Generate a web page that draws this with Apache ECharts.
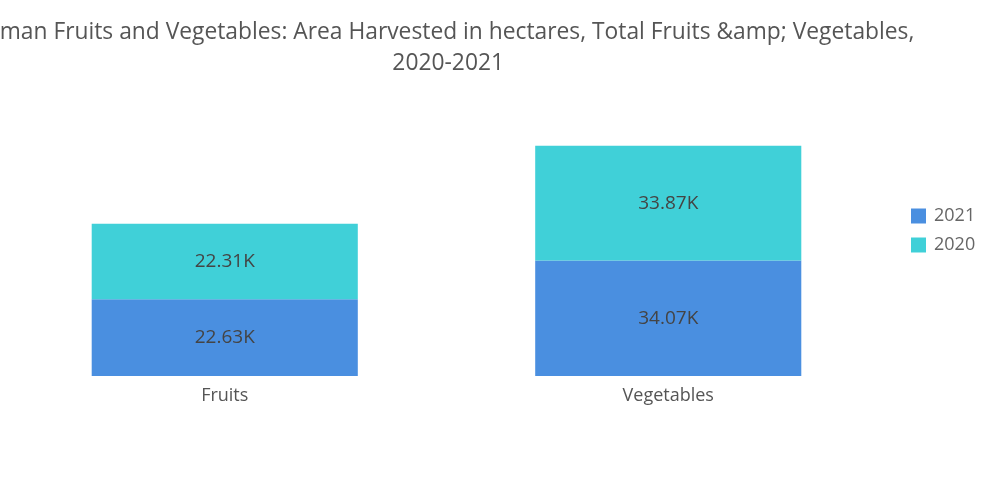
<!DOCTYPE html>
<html><head><meta charset="utf-8">
<script src="https://cdn.jsdelivr.net/npm/echarts@6/dist/echarts.min.js"></script>
<style>html,body{margin:0;padding:0;background:#fff}#c{width:1000px;height:504px}</style>
</head><body><div id="c"></div>
<script>
const categories = ['Fruits', 'Vegetables'];
const seriesNames = ['2021', '2020'];
const values2021 = [22.63, 34.07];
const values2020 = [22.31, 33.87];
const titleLines = ['Oman Fruits and Vegetables: Area Harvested in hectares, Total Fruits &amp; Vegetables,', '2020-2021'];

const FONT = '"Open Sans"';
const chart = echarts.init(document.getElementById('c'), null, {renderer: 'canvas'});
const labelCfg = {
  show: true, position: 'inside', color: '#444', fontSize: 19, fontFamily: FONT,
  formatter: p => p.value.toFixed(2) + 'K'
};
chart.setOption({
  animation: false,
  graphic: [{
    type: 'text', left: 447 - 465, top: 17,
    style: {
      text: titleLines.join('\n'), fill: '#555', font: '22.8px ' + FONT,
      textAlign: 'center', lineHeight: 31, width: 930
    }
  }],
  legend: {
    orient: 'vertical', left: 906, top: 202, icon: 'rect',
    itemWidth: 15, itemHeight: 15, itemGap: 11,
    textStyle: {color: '#666', fontSize: 18, fontFamily: FONT, padding: [0, 0, 0, 3]},
    data: seriesNames
  },
  grid: {left: 3, width: 887, top: 105, height: 271, containLabel: false},
  xAxis: {
    type: 'category', data: categories,
    axisLine: {show: false}, axisTick: {show: false},
    axisLabel: {color: '#555', fontSize: 18, fontFamily: FONT, margin: 11}
  },
  yAxis: {type: 'value', min: 0, max: 80, show: false, splitLine: {show: false}},
  series: [
    {name: seriesNames[0], type: 'bar', stack: 't', data: values2021, barWidth: '60%',
     itemStyle: {color: '#4a8fe0'}, label: labelCfg},
    {name: seriesNames[1], type: 'bar', stack: 't', data: values2020, barWidth: '60%',
     itemStyle: {color: '#40d0d8'}, label: labelCfg}
  ]
});
</script></body></html>
